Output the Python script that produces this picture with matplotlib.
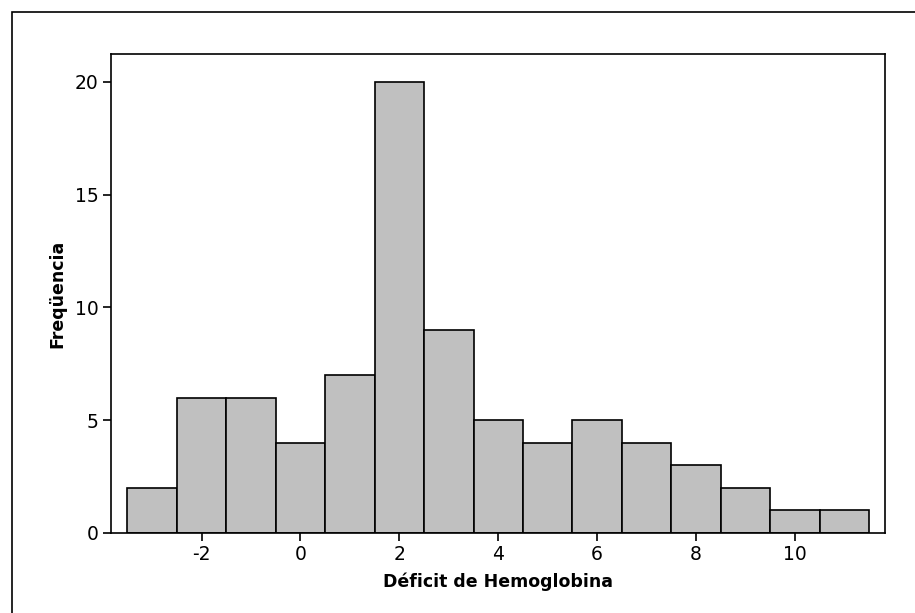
import matplotlib
matplotlib.use("Agg")
import matplotlib.pyplot as plt
from matplotlib.patches import Rectangle

# -------------------------
# Data
# -------------------------
bin_centers = [-3, -2, -1, 0, 1, 2, 3, 4, 5, 6, 7, 8, 9, 10, 11]
counts = [2, 6, 6, 4, 7, 20, 9, 5, 4, 5, 4, 3, 2, 1, 1]
x_ticks = [-2, 0, 2, 4, 6, 8, 10]
y_ticks = [0, 5, 10, 15, 20]

plt.rcParams["axes.unicode_minus"] = False

# -------------------------
# Plot
# -------------------------
fig = plt.figure(figsize=(9.15, 6.13), dpi=100)
ax = fig.add_axes([111 / 915, 1 - 533 / 613, (885 - 111) / 915, (533 - 54) / 613])

ax.bar(bin_centers, counts, width=1.0, color="#c0c0c0",
       edgecolor="black", linewidth=1.2)

ax.set_xlim(-3.83, 11.82)
ax.set_ylim(0, 21.24)
ax.set_xticks(x_ticks)
ax.set_yticks(y_ticks)

ax.tick_params(direction="out", length=6, width=1.2, labelsize=13.5, pad=3)
for spine in ax.spines.values():
    spine.set_linewidth(1.2)

ax.set_xlabel("Déficit de Hemoglobina", fontsize=12.5, fontweight="bold")
ax.set_ylabel("Freqüencia", fontsize=12.5, fontweight="bold")
ax.xaxis.set_label_coords(0.5, -(582 - 533) / 479)
ax.xaxis.label.set_va("center")
ax.yaxis.set_label_coords((57 - 111) / 774, 0.5)
ax.yaxis.label.set_va("center")

# outer frame (only top and left edges fall inside the image)
fig.patches.append(Rectangle((12 / 915, -0.1), 1.2, (613 - 12) / 613 + 0.1,
                             transform=fig.transFigure, fill=False,
                             edgecolor="black", linewidth=1.2))

plt.savefig("out.png", dpi=100)
plt.close()
